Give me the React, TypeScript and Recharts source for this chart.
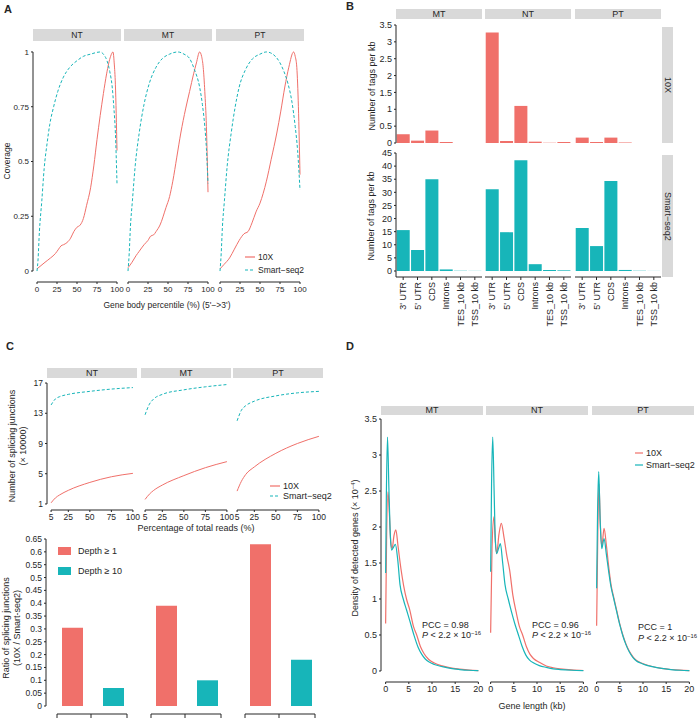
import React from "react";
import { LineChart, Line, BarChart, Bar, XAxis, YAxis, ReferenceLine } from "recharts";

type Pt = [number, number];

const RED = "#F0706A";
const TEAL = "#17B5B9";
const STRIP = "#D9D9D9";
const INK = "#262626";
const FONT = "'Liberation Sans', Arial, Helvetica, sans-serif";
// room round each plot so edge tick labels are not clipped by the svg
const PAD_T = 6;
const PAD_R = 10;
const PAD_B = 6;

// ---------- A: gene body coverage ----------
const aTicksX = [0, 25, 50, 75, 100];
const aTicksY = [0, 0.25, 0.5, 0.75, 1];
const aNt10x: Pt[] = [[0, 0.01], [5, 0.025], [10, 0.04], [17, 0.06], [23, 0.08], [27, 0.1], [30, 0.115], [33, 0.12], [37.5, 0.13], [42, 0.15], [46, 0.18], [50, 0.2], [54, 0.21], [58, 0.24], [62, 0.3], [67, 0.38], [71, 0.48], [75, 0.6], [79, 0.71], [83, 0.81], [87, 0.9], [92, 0.98], [95, 1.0], [96.5, 0.95], [98, 0.85], [100, 0.55]];
const aNtSs2: Pt[] = [[0, 0], [1.25, 0.05], [3, 0.18], [6, 0.32], [9, 0.47], [12.5, 0.58], [16, 0.67], [20.8, 0.75], [26, 0.82], [33, 0.885], [41, 0.93], [50, 0.96], [58, 0.98], [67, 0.99], [79, 1.0], [84, 0.985], [87.5, 0.96], [91, 0.91], [94, 0.84], [96, 0.75], [98, 0.63], [100, 0.4]];
const aMt10x: Pt[] = [[0, 0.015], [5, 0.04], [10, 0.07], [14, 0.09], [20, 0.12], [25, 0.14], [28.5, 0.16], [32, 0.165], [35, 0.18], [40, 0.21], [47.5, 0.29], [52, 0.34], [56, 0.41], [61, 0.52], [66, 0.63], [72, 0.74], [77, 0.82], [82, 0.9], [85.5, 0.95], [89.5, 1.0], [92, 0.98], [94, 0.93], [96, 0.82], [98, 0.66], [100, 0.36]];
const aMtSs2: Pt[] = [[0, 0], [1.5, 0.08], [3, 0.2], [5.5, 0.32], [9, 0.48], [14, 0.63], [20, 0.76], [26.5, 0.855], [35, 0.93], [43, 0.97], [52, 0.99], [62, 1.0], [70, 0.99], [77, 0.97], [83, 0.92], [89.5, 0.84], [93, 0.76], [96, 0.66], [98, 0.56], [100, 0.4]];
const aPt10x: Pt[] = [[0, 0.01], [5, 0.03], [12, 0.06], [18, 0.1], [24, 0.14], [30, 0.17], [35, 0.18], [40, 0.22], [45, 0.27], [50, 0.31], [58, 0.41], [64, 0.51], [71, 0.63], [76, 0.73], [81, 0.84], [86, 0.93], [92, 1.0], [94, 0.98], [96, 0.93], [98, 0.75], [100, 0.44]];
const aPtSs2: Pt[] = [[0, 0], [1.5, 0.08], [3, 0.2], [5.5, 0.32], [9, 0.48], [14, 0.63], [19, 0.75], [24, 0.84], [32, 0.92], [41, 0.97], [50, 0.99], [58, 1.0], [66, 0.99], [75, 0.95], [80, 0.91], [85, 0.855], [90, 0.77], [94, 0.66], [97, 0.55], [100, 0.37]];

// ---------- B: tags per kb ----------
const bCats = ["3' UTR", "5' UTR", "CDS", "Introns", "TES_10 kb", "TSS_10 kb"];
const bTicks10x = [0, 0.5, 1, 1.5, 2, 2.5, 3, 3.5];
const bTicksSs2 = [0, 5, 10, 15, 20, 25, 30, 35, 40, 45];
const bMt10x = [0.26, 0.07, 0.37, 0.03, 0, 0];
const bNt10x = [3.28, 0.06, 1.1, 0.04, 0.01, 0.03];
const bPt10x = [0.16, 0.03, 0.16, 0.015, 0, 0];
const bMtSs2 = [15.6, 8.0, 35, 0.6, 0.1, 0.05];
const bNtSs2 = [31.2, 14.8, 42.2, 2.6, 0.4, 0.25];
const bPtSs2 = [16.4, 9.5, 34.3, 0.4, 0.1, 0.03];

// ---------- C: splicing junctions ----------
const cTicksX = [5, 25, 50, 75, 100];
const cTicksY = [1, 5, 9, 13, 17];
const cNt10x: Pt[] = [[5, 1.15], [10, 1.8], [15, 2.2], [25, 2.8], [50, 3.85], [75, 4.6], [100, 5.05]];
const cNtSs2: Pt[] = [[5, 14.1], [10, 14.9], [15, 15.2], [25, 15.5], [50, 15.9], [75, 16.2], [100, 16.4]];
const cMt10x: Pt[] = [[5, 1.6], [10, 2.3], [15, 2.8], [25, 3.5], [50, 4.75], [75, 5.8], [100, 6.6]];
const cMtSs2: Pt[] = [[5, 12.8], [10, 14.2], [15, 14.9], [25, 15.5], [50, 16.1], [75, 16.5], [100, 16.8]];
const cPt10x: Pt[] = [[5, 2.7], [10, 4.0], [15, 4.9], [25, 5.9], [50, 7.7], [75, 9.0], [100, 9.95]];
const cPtSs2: Pt[] = [[5, 12.0], [10, 13.4], [15, 14.0], [25, 14.6], [50, 15.3], [75, 15.7], [100, 15.9]];

const cGroups = ["NT", "MT", "PT"];
const cDepth1 = [0.305, 0.39, 0.63];
const cDepth10 = [0.07, 0.1, 0.18];
const cRatioTicks = [0, 0.05, 0.1, 0.15, 0.2, 0.25, 0.3, 0.35, 0.4, 0.45, 0.5, 0.55, 0.6, 0.65];

// ---------- D: gene length density ----------
const dTicksX = [0, 5, 10, 15, 20];
const dTicksY = [0, 0.5, 1, 1.5, 2, 2.5, 3, 3.5];
const dMt10x: Pt[] = [[0, 0.66], [0.2, 1.8], [0.5, 2.49], [0.8, 2.2], [1.1, 1.8], [1.4, 1.7], [1.8, 1.88], [2.2, 1.96], [2.7, 1.72], [3.3, 1.42], [3.9, 1.18], [4.5, 1.0], [5.2, 0.85], [6.0, 0.62], [6.7, 0.5], [7.5, 0.34], [8.3, 0.24], [9.3, 0.16], [10.5, 0.11], [12.2, 0.07], [14, 0.042], [16, 0.025], [18, 0.012], [20, 0.006]];
const dMtSs2: Pt[] = [[0, 1.36], [0.15, 2.4], [0.4, 3.25], [0.7, 2.55], [1.0, 1.9], [1.3, 1.68], [1.7, 1.72], [2.1, 1.76], [2.6, 1.55], [3.1, 1.2], [3.8, 1.0], [4.5, 0.85], [5.2, 0.7], [6.1, 0.5], [7.0, 0.33], [7.8, 0.23], [8.5, 0.17], [9.5, 0.12], [10.5, 0.09], [12.2, 0.06], [14, 0.035], [16, 0.02], [18, 0.01], [20, 0.005]];
const dNt10x: Pt[] = [[0, 0.53], [0.3, 1.7], [0.7, 2.14], [1.0, 1.8], [1.3, 1.63], [1.8, 1.9], [2.3, 2.05], [2.9, 1.85], [3.5, 1.6], [4.1, 1.4], [4.8, 1.05], [5.5, 0.82], [6.2, 0.62], [6.9, 0.5], [7.7, 0.34], [8.5, 0.23], [9.3, 0.17], [10.5, 0.12], [12, 0.07], [13.5, 0.045], [15, 0.03], [17.5, 0.015], [20, 0.007]];
const dNtSs2: Pt[] = [[0, 1.38], [0.2, 2.6], [0.45, 3.25], [0.75, 2.5], [1.0, 1.85], [1.3, 1.63], [1.7, 1.7], [2.1, 1.77], [2.6, 1.5], [3.1, 1.2], [3.8, 1.0], [4.5, 0.82], [5.2, 0.66], [6.0, 0.5], [6.8, 0.34], [7.6, 0.22], [8.4, 0.15], [9.3, 0.11], [10.5, 0.075], [12, 0.05], [13.5, 0.03], [15, 0.02], [17.5, 0.01], [20, 0.005]];
const dPt10x: Pt[] = [[0, 0.63], [0.25, 1.9], [0.5, 2.6], [0.8, 2.05], [1.1, 1.72], [1.6, 1.98], [2.1, 1.75], [2.6, 1.45], [3.1, 1.2], [3.7, 1.02], [4.3, 0.85], [5.0, 0.65], [5.6, 0.51], [6.3, 0.38], [7.0, 0.28], [7.8, 0.2], [8.6, 0.145], [9.5, 0.115], [10.5, 0.09], [12, 0.062], [14, 0.037], [16, 0.021], [18, 0.011], [20, 0.005]];
const dPtSs2: Pt[] = [[0, 1.15], [0.2, 2.2], [0.45, 2.77], [0.75, 2.1], [1.1, 1.7], [1.6, 1.84], [2.1, 1.62], [2.6, 1.38], [3.1, 1.17], [3.7, 1.0], [4.3, 0.83], [5.0, 0.64], [5.6, 0.5], [6.3, 0.37], [7.0, 0.27], [7.8, 0.19], [8.6, 0.14], [9.5, 0.11], [10.5, 0.085], [12, 0.06], [14, 0.035], [16, 0.02], [18, 0.01], [20, 0.005]];

// ---------- helpers ----------
type Series = { pts: Pt[]; color: string; dashed?: boolean; sw?: number };

type LineFacetProps = {
  left: number; top: number; w: number; h: number; yw: number; xh: number; fs: number;
  xDomain: [number, number]; yDomain: [number, number];
  xTicks: number[]; yTicks: number[];
  xCap: [number, number]; yCap: [number, number];
  showY: boolean; series: Series[];
};

const LineFacet = (p: LineFacetProps) => {
  const yw = p.showY ? p.yw : 0;
  const tick = { fontSize: p.fs, fill: INK, fontFamily: FONT };
  return (
    <div style={{ position: "absolute", left: p.left - yw, top: p.top - PAD_T }}>
      <LineChart width={p.w + yw + PAD_R} height={p.h + p.xh + PAD_T}
        margin={{ top: PAD_T, right: PAD_R, bottom: 0, left: 0 }}>
        <XAxis type="number" dataKey="x" domain={p.xDomain} ticks={p.xTicks} allowDataOverflow interval={0}
          height={p.xh} axisLine={false} tickLine={{ stroke: INK }} tickSize={2} tickMargin={2} tick={tick} />
        <YAxis type="number" domain={p.yDomain} ticks={p.yTicks} allowDataOverflow interval={0} hide={!p.showY}
          width={yw} axisLine={false} tickLine={{ stroke: INK }} tickSize={2} tickMargin={2} tick={tick} />
        <ReferenceLine ifOverflow="visible" stroke={INK}
          segment={[{ x: p.xCap[0], y: p.yDomain[0] }, { x: p.xCap[1], y: p.yDomain[0] }]} />
        {p.showY && (
          <ReferenceLine ifOverflow="visible" stroke={INK}
            segment={[{ x: p.xDomain[0], y: p.yCap[0] }, { x: p.xDomain[0], y: p.yCap[1] }]} />
        )}
        {p.series.map((s, i) => (
          <Line key={i} data={s.pts.map(([x, y]) => ({ x, y }))} dataKey="y" type="monotone"
            stroke={s.color} strokeWidth={s.sw ?? 1} strokeDasharray={s.dashed ? "3 2" : undefined}
            dot={false} activeDot={false} isAnimationActive={false} />
        ))}
      </LineChart>
    </div>
  );
};

const RotTick = (props: any) => {
  const { x, y, payload } = props;
  return (
    <g transform={`translate(${x},${y})`}>
      <text transform="rotate(-90)" textAnchor="end" dy="0.35em" fontSize={9} fill={INK} fontFamily={FONT}>
        {payload.value}
      </text>
    </g>
  );
};

type BarFacetProps = {
  left: number; top: number; w: number; h: number; showY: boolean; vals: number[];
  color: string; yDomain: [number, number]; yTicks: number[]; xAxis: boolean; padBottom: number;
};

const BarFacet = (p: BarFacetProps) => {
  const yw = p.showY ? 26 : 0;
  const xh = p.xAxis ? 55 : PAD_B;
  const rows = bCats.map((cat, i) => ({ cat, v: p.vals[i] }));
  return (
    <div style={{ position: "absolute", left: p.left - yw, top: p.top - PAD_T }}>
      <BarChart width={p.w + yw} height={p.h + xh + PAD_T} data={rows}
        margin={{ top: PAD_T, right: 0, bottom: p.xAxis ? 0 : PAD_B, left: 0 }} barCategoryGap="5%">
        <XAxis dataKey="cat" hide={!p.xAxis} height={55} interval={0} axisLine={{ stroke: INK }}
          tickLine={{ stroke: INK }} tickSize={3} tickMargin={2} tick={(t: any) => <RotTick {...t} />} />
        <YAxis type="number" domain={p.yDomain} ticks={p.yTicks} interval={0} hide={!p.showY} width={yw}
          axisLine={{ stroke: INK }} tickLine={{ stroke: INK }} tickSize={2} tickMargin={2}
          padding={{ top: 0, bottom: p.padBottom }}
          tick={{ fontSize: 9, fill: INK, fontFamily: FONT }} />
        <Bar dataKey="v" fill={p.color} isAnimationActive={false} />
      </BarChart>
    </div>
  );
};

const Strip = ({ x, y, w, h, label, fs, vertical }: { x: number; y: number; w: number; h: number; label: string; fs: number; vertical?: boolean }) => (
  <div style={{
    position: "absolute", left: x, top: y, width: w, height: h, background: STRIP, color: INK,
    fontSize: fs, display: "flex", alignItems: "center", justifyContent: "center", lineHeight: 1,
    writingMode: vertical ? "vertical-rl" : undefined, whiteSpace: "nowrap",
  }}>{label}</div>
);

const Txt = ({ x, y, fs, children, rot, align, bold }: { x: number; y: number; fs: number; children: React.ReactNode; rot?: boolean; align?: "left" | "center"; bold?: boolean }) => (
  <div style={{
    position: "absolute", left: x, top: y, fontSize: fs, color: INK, whiteSpace: "nowrap", lineHeight: 1.2,
    textAlign: "center", fontWeight: bold ? "bold" : "normal",
    transform: `translate(${align === "left" ? "0" : "-50%"},-50%)${rot ? " rotate(-90deg)" : ""}`,
  }}>{children}</div>
);

const LegendKey = ({ x, y, color, dashed, w, label, fs }: { x: number; y: number; color: string; dashed?: boolean; w: number; label: string; fs: number }) => (
  <>
    <svg style={{ position: "absolute", left: x, top: y - 2 }} width={w} height={4}>
      <line x1={0} y1={2} x2={w} y2={2} stroke={color} strokeWidth={1.2} strokeDasharray={dashed ? "3 2" : undefined} />
    </svg>
    <Txt x={x + w + 3} y={y} fs={fs} align="left">{label}</Txt>
  </>
);

const BoxTick = (props: any) => {
  const { x, y } = props;
  const t = y + 8;
  return (
    <path d={`M${x - 36},${t + 12}V${t}H${x + 34}V${t + 12}M${x - 2},${t}V${t + 12}`} stroke={INK} fill="none" strokeWidth={1} />
  );
};

const Sup = ({ children }: { children: React.ReactNode }) => (
  <span style={{ fontSize: "0.65em", verticalAlign: "0.45em" }}>{children}</span>
);

export default function App() {
  const aLefts = [33, 124, 216];
  const aSeries: Series[][] = [
    [{ pts: aNt10x, color: RED }, { pts: aNtSs2, color: TEAL, dashed: true }],
    [{ pts: aMt10x, color: RED }, { pts: aMtSs2, color: TEAL, dashed: true }],
    [{ pts: aPt10x, color: RED }, { pts: aPtSs2, color: TEAL, dashed: true }],
  ];
  const aNames = ["NT", "MT", "PT"];

  const bLefts = [396, 485, 575];
  const bNames = ["MT", "NT", "PT"];
  const bTop = [bMt10x, bNt10x, bPt10x];
  const bBot = [bMtSs2, bNtSs2, bPtSs2];

  const cLefts = [47, 141, 233];
  const cSeries: Series[][] = [
    [{ pts: cNt10x, color: RED }, { pts: cNtSs2, color: TEAL, dashed: true }],
    [{ pts: cMt10x, color: RED }, { pts: cMtSs2, color: TEAL, dashed: true }],
    [{ pts: cPt10x, color: RED }, { pts: cPtSs2, color: TEAL, dashed: true }],
  ];
  const cRows = cGroups.map((g, i) => ({ g, d1: cDepth1[i], d10: cDepth10[i] }));

  const dLefts = [381, 486, 592];
  const dNames = ["MT", "NT", "PT"];
  const dSeries: Series[][] = [
    [{ pts: dMt10x, color: RED, sw: 1.2 }, { pts: dMtSs2, color: TEAL, sw: 1.2 }],
    [{ pts: dNt10x, color: RED, sw: 1.2 }, { pts: dNtSs2, color: TEAL, sw: 1.2 }],
    [{ pts: dPt10x, color: RED, sw: 1.2 }, { pts: dPtSs2, color: TEAL, sw: 1.2 }],
  ];

  return (
    <div style={{ position: "absolute", left: 0, top: 0, width: 700, height: 718, background: "#fff", fontFamily: FONT, overflow: "hidden" }}>
      {/* panel letters */}
      <Txt x={8} y={10} fs={11} bold>A</Txt>
      <Txt x={350} y={7} fs={11} bold>B</Txt>
      <Txt x={10} y={347} fs={11} bold>C</Txt>
      <Txt x={350} y={347} fs={11} bold>D</Txt>

      {/* ---- A ---- */}
      {aLefts.map((l, i) => (
        <React.Fragment key={"a" + i}>
          <Strip x={l} y={29} w={88} h={12} label={aNames[i]} fs={8.5} />
          <LineFacet left={l} top={41} w={88} h={241} yw={28} xh={14} fs={8}
            xDomain={[-5, 105]} yDomain={[-0.05, 1.05]} xTicks={aTicksX} yTicks={aTicksY}
            xCap={[0, 100]} yCap={[0, 1]} showY={i === 0} series={aSeries[i]} />
        </React.Fragment>
      ))}
      <Txt x={7} y={161} fs={8.5} rot>Coverage</Txt>
      <Txt x={167} y={305} fs={8.5}>Gene body percentile (%) (5'−&gt;3')</Txt>
      <LegendKey x={245} y={257} w={10} color={RED} label="10X" fs={8.5} />
      <LegendKey x={245} y={270} w={10} color={TEAL} dashed label="Smart−seq2" fs={8.5} />

      {/* ---- B ---- */}
      {bLefts.map((l, i) => (
        <React.Fragment key={"b" + i}>
          <Strip x={l} y={9} w={86} h={10} label={bNames[i]} fs={9} />
          <BarFacet left={l} top={25} w={86} h={118} showY={i === 0} vals={bTop[i]} color={RED}
            yDomain={[0, 3.5]} yTicks={bTicks10x} xAxis={false} padBottom={0} />
          <BarFacet left={l} top={153} w={86} h={124} showY={i === 0} vals={bBot[i]} color={TEAL}
            yDomain={[0, 45]} yTicks={bTicksSs2} xAxis padBottom={6} />
        </React.Fragment>
      ))}
      <Strip x={662} y={27} w={11} h={116} label="10X" fs={9} vertical />
      <Strip x={662} y={155} w={11} h={122} label="Smart−seq2" fs={9} vertical />
      <Txt x={372} y={86} fs={9} rot>Number of tags per kb</Txt>
      <Txt x={371} y={216} fs={9} rot>Number of tags per kb</Txt>

      {/* ---- C top ---- */}
      {cLefts.map((l, i) => (
        <React.Fragment key={"c" + i}>
          <Strip x={l} y={368} w={90} h={10} label={cGroups[i]} fs={9} />
          <LineFacet left={l} top={377} w={90} h={133} yw={22} xh={14} fs={8.5}
            xDomain={[0.25, 104.75]} yDomain={[0.2, 17.8]} xTicks={cTicksX} yTicks={cTicksY}
            xCap={[5, 100]} yCap={[1, 17]} showY={i === 0} series={cSeries[i]} />
        </React.Fragment>
      ))}
      <Txt x={18} y={446} fs={9} rot>Number of splicing junctions<br />(× 10000)</Txt>
      <Txt x={196} y={528} fs={9}>Percentage of total reads (%)</Txt>
      <LegendKey x={270} y={486} w={10} color={RED} label="10X" fs={9} />
      <LegendKey x={270} y={496} w={10} color={TEAL} dashed label="Smart−seq2" fs={9} />

      {/* ---- C bottom ---- */}
      <div style={{ position: "absolute", left: 46 - 26, top: 539 - PAD_T }}>
        <BarChart width={282 + 26} height={167 + 12 + PAD_T} data={cRows}
          margin={{ top: PAD_T, right: 0, bottom: 0, left: 0 }} barSize={21} barGap={20}>
          <XAxis dataKey="g" height={12} interval={0} axisLine={false} tickLine={false} tickSize={0} tickMargin={0}
            tick={(t: any) => <BoxTick {...t} />} />
          <YAxis type="number" domain={[0, 0.65]} ticks={cRatioTicks} interval={0} width={26}
            axisLine={{ stroke: INK }} tickLine={{ stroke: INK }} tickSize={2} tickMargin={2}
            tickFormatter={(v: number) => String(+v.toFixed(2))}
            tick={{ fontSize: 8.5, fill: INK, fontFamily: FONT }} />
          <Bar dataKey="d1" fill={RED} isAnimationActive={false} />
          <Bar dataKey="d10" fill={TEAL} isAnimationActive={false} />
        </BarChart>
      </div>
      <div style={{ position: "absolute", left: 58, top: 547, width: 13, height: 8, background: RED }} />
      <Txt x={78} y={551} fs={9} align="left">Depth ≥ 1</Txt>
      <div style={{ position: "absolute", left: 58, top: 567, width: 13, height: 8, background: TEAL }} />
      <Txt x={78} y={571} fs={9} align="left">Depth ≥ 10</Txt>
      <Txt x={12} y={628} fs={9} rot>Ratio of splicing junctions<br />(10X / Smart-seq2)</Txt>

      {/* ---- D ---- */}
      {dLefts.map((l, i) => (
        <React.Fragment key={"d" + i}>
          <Strip x={l} y={406} w={102} h={9} label={dNames[i]} fs={9} />
          <LineFacet left={l} top={415} w={102} h={267} yw={22} xh={14} fs={9}
            xDomain={[-1, 21]} yDomain={[-0.153, 3.556]} xTicks={dTicksX} yTicks={dTicksY}
            xCap={[0, 20]} yCap={[0, 3.5]} showY={i === 0} series={dSeries[i]} />
        </React.Fragment>
      ))}
      <Txt x={355} y={548} fs={9} rot>Density of detected genes (× 10<Sup>−4</Sup>)</Txt>
      <Txt x={532} y={706} fs={9}>Gene length (kb)</Txt>
      <LegendKey x={635} y={453} w={8} color={RED} label="10X" fs={9} />
      <LegendKey x={635} y={465} w={8} color={TEAL} label="Smart−seq2" fs={9} />
      <Txt x={422} y={625} fs={9} align="left">PCC = 0.98</Txt>
      <Txt x={422} y={635} fs={9} align="left"><i>P</i> &lt; 2.2 × 10<Sup>−16</Sup></Txt>
      <Txt x={532} y={625} fs={9} align="left">PCC = 0.96</Txt>
      <Txt x={532} y={635} fs={9} align="left"><i>P</i> &lt; 2.2 × 10<Sup>−16</Sup></Txt>
      <Txt x={638} y={627} fs={9} align="left">PCC = 1</Txt>
      <Txt x={638} y={638} fs={9} align="left"><i>P</i> &lt; 2.2 × 10<Sup>−16</Sup></Txt>
    </div>
  );
}
